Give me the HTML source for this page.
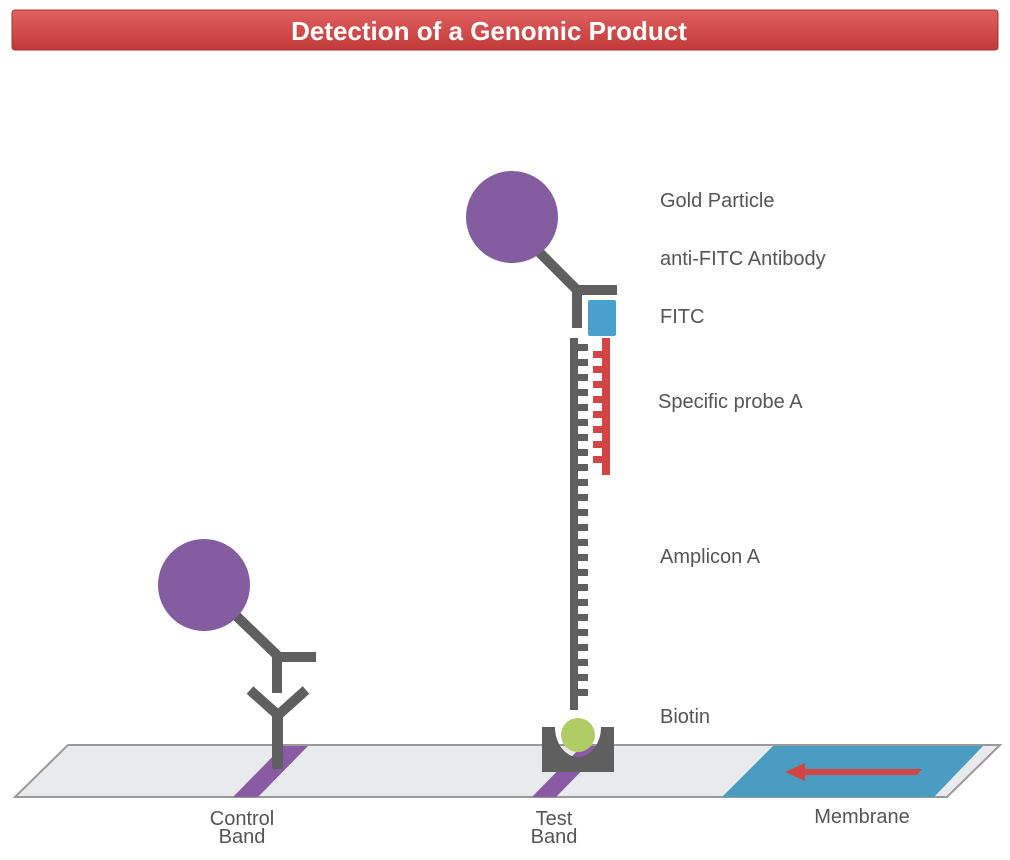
<!DOCTYPE html>
<html><head><meta charset="utf-8"><style>
body{margin:0;background:#fff;width:1010px;height:860px;overflow:hidden;font-family:"Liberation Sans",sans-serif}
svg{display:block}
</style></head><body>
<svg width="1010" height="860" viewBox="0 0 1010 860">
<defs>
<linearGradient id="tg" x1="0" y1="0" x2="0" y2="1"><stop offset="0" stop-color="#e06060"/><stop offset="1" stop-color="#c23a3a"/></linearGradient>
</defs>
<g>
<rect x="12" y="10" width="986" height="40" rx="3" fill="url(#tg)" stroke="#a83030"/>
<text x="489" y="40" text-anchor="middle" font-size="26" font-weight="bold" fill="#fff">Detection of a Genomic Product</text>
</g>
<g>
<polygon points="68,745 1000,745 947,797 15,797" fill="#e9eaec" stroke="#9a9a9a" stroke-width="2"/>
<polygon points="773,746 983,746 934,797 722,797" fill="#4a9cc0"/>
<polygon points="922,769 805,769 805,763 785,772 805,781 805,775 917,775" fill="#d44444"/>
<polygon points="283,746 308,746 258,797 233,797" fill="#8a5aa5"/>
<polygon points="582,746 606,746 556,797 532,797" fill="#8a5aa5"/>
</g>
<g fill="#5f5f5f">
<line x1="225" y1="605" x2="280" y2="658" stroke="#5f5f5f" stroke-width="10"/>
<rect x="274" y="652" width="42" height="10"/>
<rect x="272" y="655" width="10" height="38"/>
<line x1="250" y1="690" x2="279" y2="716" stroke="#5f5f5f" stroke-width="10"/>
<line x1="306" y1="690" x2="277" y2="716" stroke="#5f5f5f" stroke-width="10"/>
<rect x="272" y="712" width="11" height="57"/>
<circle cx="204" cy="585" r="46" fill="#845ca0"/>
</g>
<g fill="#5f5f5f">
<path d="M542,727 H555 A23,30 0 0 0 601,727 H614 V772 H542 Z"/>
<rect x="570" y="338" width="8" height="372"/>
<g id="teeth"></g>
<rect x="602" y="338" width="8" height="137" fill="#d44444"/>
<g id="rteeth" fill="#d44444"></g>
<circle cx="578" cy="735" r="17" fill="#b1cc64"/>
<rect x="588" y="300" width="28" height="36" rx="2" fill="#4aa0cc"/>
<line x1="535" y1="248" x2="579" y2="292" stroke="#5f5f5f" stroke-width="10"/>
<rect x="576" y="285" width="41" height="10"/>
<rect x="572" y="288" width="10" height="40"/>
<circle cx="512" cy="217" r="46" fill="#845ca0"/>
</g>
<g font-size="20" fill="#555">
<text x="660" y="207">Gold Particle</text>
<text x="660" y="265">anti-FITC Antibody</text>
<text x="660" y="323">FITC</text>
<text x="658" y="408">Specific probe A</text>
<text x="660" y="563">Amplicon A</text>
<text x="660" y="723">Biotin</text>
<text x="242" y="825" text-anchor="middle">Control</text>
<text x="242" y="843" text-anchor="middle">Band</text>
<text x="554" y="825" text-anchor="middle">Test</text>
<text x="554" y="843" text-anchor="middle">Band</text>
<text x="862" y="823" text-anchor="middle">Membrane</text>
</g>
</svg>
<script>
var ns="http://www.w3.org/2000/svg";
var g=document.getElementById('teeth'),r=document.getElementById('rteeth');
for(var y=344;y<700;y+=15){
 var t=document.createElementNS(ns,'rect');
 t.setAttribute('x',578);t.setAttribute('y',y);t.setAttribute('width',10);t.setAttribute('height',7);
 
 
 g.appendChild(t);
 if(y+7<470){
  var s=document.createElementNS(ns,'rect');
  s.setAttribute('x',593);s.setAttribute('y',y+7);s.setAttribute('width',10);s.setAttribute('height',7);
  
  
  r.appendChild(s);
 }
}
</script>
</body></html>
